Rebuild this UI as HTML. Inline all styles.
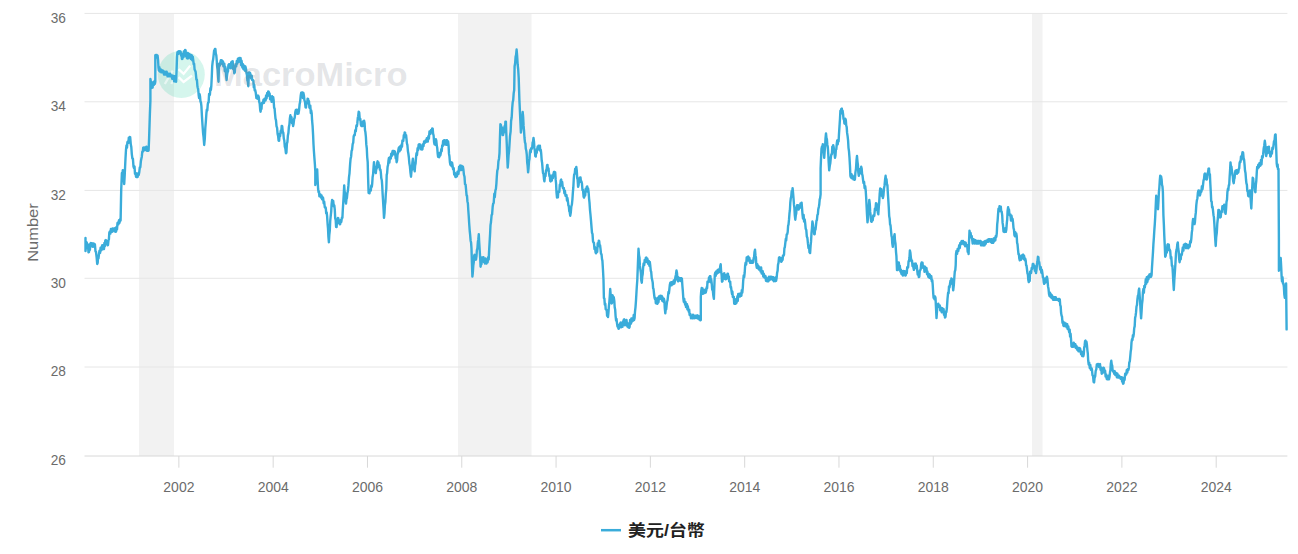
<!DOCTYPE html>
<html><head><meta charset="utf-8"><title>美元/台幣</title>
<style>
html,body{margin:0;padding:0;background:#fff;}
body{width:1298px;height:554px;overflow:hidden;}
svg{display:block;}
.ax{font-family:"Liberation Sans","Noto Sans CJK TC",sans-serif;font-size:15px;fill:#6b6b6b;}
.ttl{font-family:"Liberation Sans","Noto Sans CJK TC",sans-serif;font-size:14.5px;fill:#6b6b6b;}
.wmt{font-family:"Liberation Sans",sans-serif;font-size:33px;font-weight:bold;fill:rgba(118,122,135,0.2);}
.lg{font-family:"Liberation Sans","Noto Sans CJK TC",sans-serif;font-size:16px;font-weight:bold;fill:#222222;}
</style></head><body>
<svg width="1298" height="554" viewBox="0 0 1298 554">
<rect x="0" y="0" width="1298" height="554" fill="#ffffff"/>
<rect x="139" y="13.5" width="35" height="442.5" fill="#f2f2f2"/>
<rect x="458" y="13.5" width="73.5" height="442.5" fill="#f2f2f2"/>
<rect x="1032" y="13.5" width="10.5" height="442.5" fill="#f2f2f2"/>
<path d="M84.5 13.4 H1287.4" stroke="#e6e6e6" stroke-width="1"/>
<path d="M84.5 101.8 H1287.4" stroke="#e6e6e6" stroke-width="1"/>
<path d="M84.5 190.4 H1287.4" stroke="#e6e6e6" stroke-width="1"/>
<path d="M84.5 278.3 H1287.4" stroke="#e6e6e6" stroke-width="1"/>
<path d="M84.5 367.0 H1287.4" stroke="#e6e6e6" stroke-width="1"/>
<path d="M84.5 456.0 H1287.4" stroke="#d8d8d8" stroke-width="1"/>
<path d="M178.86 456.0 V467.7" stroke="#d8d8d8" stroke-width="1"/>
<path d="M273.16 456.0 V467.7" stroke="#d8d8d8" stroke-width="1"/>
<path d="M367.47 456.0 V467.7" stroke="#d8d8d8" stroke-width="1"/>
<path d="M461.77 456.0 V467.7" stroke="#d8d8d8" stroke-width="1"/>
<path d="M556.07 456.0 V467.7" stroke="#d8d8d8" stroke-width="1"/>
<path d="M650.37 456.0 V467.7" stroke="#d8d8d8" stroke-width="1"/>
<path d="M744.68 456.0 V467.7" stroke="#d8d8d8" stroke-width="1"/>
<path d="M838.98 456.0 V467.7" stroke="#d8d8d8" stroke-width="1"/>
<path d="M933.28 456.0 V467.7" stroke="#d8d8d8" stroke-width="1"/>
<path d="M1027.59 456.0 V467.7" stroke="#d8d8d8" stroke-width="1"/>
<path d="M1121.89 456.0 V467.7" stroke="#d8d8d8" stroke-width="1"/>
<path d="M1216.19 456.0 V467.7" stroke="#d8d8d8" stroke-width="1"/>
<text x="65.9" y="22.6" text-anchor="end" class="ax" textLength="15.2" lengthAdjust="spacingAndGlyphs">36</text>
<text x="65.9" y="111.0" text-anchor="end" class="ax" textLength="15.2" lengthAdjust="spacingAndGlyphs">34</text>
<text x="65.9" y="199.6" text-anchor="end" class="ax" textLength="15.2" lengthAdjust="spacingAndGlyphs">32</text>
<text x="65.9" y="287.5" text-anchor="end" class="ax" textLength="15.2" lengthAdjust="spacingAndGlyphs">30</text>
<text x="65.9" y="376.2" text-anchor="end" class="ax" textLength="15.2" lengthAdjust="spacingAndGlyphs">28</text>
<text x="65.9" y="465.2" text-anchor="end" class="ax" textLength="15.2" lengthAdjust="spacingAndGlyphs">26</text>
<text x="178.9" y="492.4" text-anchor="middle" class="ax" textLength="31.1" lengthAdjust="spacingAndGlyphs">2002</text>
<text x="273.2" y="492.4" text-anchor="middle" class="ax" textLength="31.1" lengthAdjust="spacingAndGlyphs">2004</text>
<text x="367.5" y="492.4" text-anchor="middle" class="ax" textLength="31.1" lengthAdjust="spacingAndGlyphs">2006</text>
<text x="461.8" y="492.4" text-anchor="middle" class="ax" textLength="31.1" lengthAdjust="spacingAndGlyphs">2008</text>
<text x="556.1" y="492.4" text-anchor="middle" class="ax" textLength="31.1" lengthAdjust="spacingAndGlyphs">2010</text>
<text x="650.4" y="492.4" text-anchor="middle" class="ax" textLength="31.1" lengthAdjust="spacingAndGlyphs">2012</text>
<text x="744.7" y="492.4" text-anchor="middle" class="ax" textLength="31.1" lengthAdjust="spacingAndGlyphs">2014</text>
<text x="839.0" y="492.4" text-anchor="middle" class="ax" textLength="31.1" lengthAdjust="spacingAndGlyphs">2016</text>
<text x="933.3" y="492.4" text-anchor="middle" class="ax" textLength="31.1" lengthAdjust="spacingAndGlyphs">2018</text>
<text x="1027.6" y="492.4" text-anchor="middle" class="ax" textLength="31.1" lengthAdjust="spacingAndGlyphs">2020</text>
<text x="1121.9" y="492.4" text-anchor="middle" class="ax" textLength="31.1" lengthAdjust="spacingAndGlyphs">2022</text>
<text x="1216.2" y="492.4" text-anchor="middle" class="ax" textLength="31.1" lengthAdjust="spacingAndGlyphs">2024</text>
<text transform="translate(37.8,232.6) rotate(-90)" text-anchor="middle" class="ttl" textLength="58.4" lengthAdjust="spacingAndGlyphs">Number</text>
<ellipse cx="181.3" cy="74.4" rx="23.5" ry="23.6" fill="rgba(45,210,165,0.2)"/>
<g stroke="#ffffff" stroke-width="2.3" fill="none" stroke-linecap="butt" stroke-linejoin="miter"><path d="M164.8 84 L172.8 70.5" stroke-opacity="0.55"/><path d="M171.2 84 L175.6 77.2" stroke-opacity="0.55"/><path d="M178.6 69.2 L183.6 73.9 L190.2 65.6"/><path d="M178.6 77.2 L183.6 82 L192 75.6"/></g>
<path d="M85.5,238.0 L85.5,251.0 L85.9,247.4 L86.3,242.0 L86.8,242.7 L87.4,247.7 L87.9,244.5 L88.5,252.4 L89.0,252.0 L89.5,246.7 L89.9,249.8 L90.3,243.7 L90.8,243.0 L91.4,246.4 L91.9,243.3 L92.5,246.0 L93.0,246.8 L93.5,243.4 L93.9,245.9 L94.4,244.0 L94.9,244.4 L95.5,251.3 L96.0,252.0 L96.6,257.0 L97.2,264.0 L97.7,262.8 L98.1,255.8 L98.5,258.3 L99.0,254.0 L99.5,250.6 L100.1,252.8 L100.6,247.7 L101.2,250.4 L101.7,247.0 L102.2,245.2 L102.6,249.4 L103.0,247.1 L103.5,249.0 L104.0,249.1 L104.4,242.9 L104.8,246.3 L105.3,240.5 L105.8,240.1 L106.4,243.9 L106.9,241.2 L107.5,245.4 L108.0,245.0 L108.5,240.2 L108.9,239.5 L109.3,232.7 L109.8,231.5 L110.4,233.5 L110.9,228.9 L111.5,230.0 L112.0,231.8 L112.5,228.4 L112.9,230.5 L113.4,228.8 L113.9,228.4 L114.5,231.4 L115.0,228.1 L115.6,231.9 L116.1,231.5 L116.5,226.9 L117.0,229.3 L117.5,222.9 L117.9,222.4 L118.4,224.4 L119.0,220.2 L119.5,222.9 L120.1,219.1 L120.6,220.6 L121.2,190.0 L121.9,173.0 L122.4,174.9 L122.8,170.2 L123.3,174.0 L123.8,180.2 L124.2,184.0 L124.7,175.4 L125.1,166.8 L125.5,158.2 L126.0,149.6 L126.5,145.5 L127.0,147.6 L127.4,142.2 L127.9,141.5 L128.4,142.9 L128.8,137.6 L129.3,140.7 L129.7,136.9 L130.2,137.3 L130.8,144.5 L131.3,147.1 L131.8,154.1 L132.4,158.6 L132.9,158.6 L133.5,166.6 L134.0,168.0 L134.5,166.3 L135.0,173.8 L135.5,172.8 L136.0,176.7 L136.5,177.1 L137.1,173.5 L137.6,177.1 L138.2,173.9 L138.7,174.9 L139.2,172.6 L139.8,167.5 L140.3,167.5 L140.9,161.0 L141.4,158.6 L141.8,156.7 L142.3,151.7 L142.8,151.8 L143.2,147.8 L143.7,147.4 L144.3,150.4 L144.8,147.4 L145.4,150.0 L145.9,148.7 L146.4,146.6 L147.0,150.9 L147.5,147.6 L148.1,150.9 L148.6,150.5 L149.1,138.2 L149.5,126.0 L149.9,113.4 L150.4,100.8 L150.4,79.0 L150.8,81.2 L151.3,87.0 L151.7,88.0 L152.1,84.8 L152.6,87.6 L153.1,82.1 L153.5,83.5 L153.9,84.8 L154.4,81.1 L154.9,83.7 L155.3,81.7 L155.3,55.3 L155.8,54.9 L156.2,57.3 L156.7,54.9 L157.1,57.7 L157.6,55.7 L158.1,60.5 L158.5,67.9 L158.9,70.5 L159.4,67.3 L159.9,71.5 L160.3,71.1 L160.8,69.5 L161.4,72.4 L161.9,70.1 L162.4,72.4 L163.0,70.7 L163.5,72.0 L164.0,74.6 L164.5,71.6 L165.0,74.6 L165.6,72.0 L166.1,74.6 L166.6,71.6 L167.1,74.2 L167.6,76.4 L168.1,73.8 L168.6,76.4 L169.2,73.8 L169.7,76.4 L170.2,73.8 L170.7,76.0 L171.2,76.4 L171.7,75.6 L172.2,78.9 L172.7,75.6 L173.1,78.5 L173.6,76.0 L174.1,81.5 L174.6,76.2 L175.1,80.2 L175.6,78.5 L176.1,81.7 L176.6,69.4 L177.0,57.1 L177.4,52.5 L177.9,51.7 L178.4,53.9 L179.0,51.3 L179.5,53.3 L180.1,51.3 L180.6,51.7 L181.1,55.7 L181.5,53.5 L181.9,59.0 L182.4,58.9 L182.9,55.0 L183.5,57.2 L184.0,51.1 L184.6,54.0 L185.1,49.9 L185.6,50.4 L186.0,56.4 L186.4,54.6 L186.9,58.0 L187.3,58.4 L187.8,53.0 L188.2,58.4 L188.7,54.4 L189.2,54.0 L189.8,57.6 L190.3,54.6 L190.9,59.0 L191.4,57.1 L191.8,55.3 L192.3,60.3 L192.8,56.8 L193.2,59.8 L193.7,64.3 L194.1,63.5 L194.6,69.5 L195.1,70.6 L195.6,71.7 L196.0,75.4 L196.4,79.6 L196.9,79.7 L197.4,86.0 L197.8,88.0 L198.2,89.3 L198.7,95.3 L199.1,98.1 L199.6,94.3 L200.0,96.2 L200.5,101.8 L200.9,102.0 L201.4,106.1 L201.9,115.5 L202.5,125.0 L203.1,133.1 L203.6,137.4 L204.2,145.0 L204.8,138.6 L205.3,128.0 L205.8,122.2 L206.4,113.5 L206.8,109.7 L207.3,110.4 L207.8,104.0 L208.2,102.6 L208.6,102.5 L209.1,93.9 L209.5,95.3 L209.9,94.7 L210.4,88.3 L210.9,89.9 L211.3,86.2 L211.8,76.2 L212.2,66.1 L212.7,61.6 L213.1,59.8 L213.6,55.3 L214.1,50.5 L214.5,53.8 L214.9,49.0 L215.4,49.0 L215.8,53.5 L216.3,55.4 L216.7,59.8 L217.1,66.0 L217.6,69.6 L218.1,77.3 L218.5,81.7 L219.0,66.0 L219.4,63.5 L219.9,65.5 L220.3,62.5 L220.8,60.3 L221.2,63.5 L221.7,60.3 L222.1,60.7 L222.6,64.3 L223.0,61.4 L223.4,66.4 L223.9,66.1 L224.3,63.6 L224.8,71.2 L225.2,66.7 L225.7,68.8 L226.1,75.8 L226.6,80.0 L227.1,74.9 L227.5,72.4 L228.0,71.3 L228.4,65.2 L228.9,64.3 L229.4,67.3 L229.8,64.2 L230.3,67.9 L230.8,68.3 L231.2,62.3 L231.7,64.9 L232.1,61.6 L232.7,61.2 L233.2,69.3 L233.8,68.5 L234.3,73.3 L234.8,72.3 L235.2,66.3 L235.7,64.3 L236.2,66.4 L236.8,61.0 L237.3,63.5 L237.9,58.6 L238.4,59.8 L238.8,61.8 L239.3,58.0 L239.8,60.2 L240.2,58.4 L240.6,58.0 L241.1,65.2 L241.6,60.8 L242.0,64.3 L242.4,67.5 L242.9,64.2 L243.4,69.2 L243.8,67.9 L244.4,65.8 L244.9,70.7 L245.4,66.5 L246.0,68.8 L246.5,73.1 L246.9,74.7 L247.4,80.6 L247.8,81.5 L248.3,86.2 L249.0,72.4 L249.5,75.4 L250.1,72.9 L250.6,75.1 L251.2,78.5 L251.7,75.6 L252.2,80.1 L252.8,80.0 L253.3,80.4 L253.8,87.3 L254.2,84.5 L254.7,90.5 L255.2,90.0 L255.8,93.0 L256.4,98.0 L256.9,98.4 L257.4,95.7 L257.8,98.9 L258.3,95.8 L258.8,97.2 L259.2,101.8 L259.7,103.7 L260.2,110.0 L260.6,111.7 L261.1,107.3 L261.5,108.8 L261.9,103.0 L262.4,102.6 L262.9,103.3 L263.5,99.7 L264.0,102.9 L264.6,98.6 L265.1,99.0 L265.6,100.4 L266.1,95.4 L266.6,98.3 L267.2,92.9 L267.7,95.8 L268.2,91.4 L268.7,91.8 L269.1,95.5 L269.6,93.3 L270.1,99.4 L270.5,99.0 L271.0,97.4 L271.6,101.8 L272.1,96.3 L272.7,99.2 L273.2,97.2 L273.6,99.9 L274.1,107.6 L274.6,108.6 L275.0,113.5 L275.5,118.7 L276.0,120.3 L276.5,126.2 L277.1,127.8 L277.6,133.9 L278.1,135.9 L278.6,140.6 L279.1,140.8 L279.6,134.0 L280.1,136.0 L280.7,130.8 L281.2,132.7 L281.7,125.9 L282.2,126.1 L282.7,131.4 L283.3,132.7 L283.8,138.5 L284.3,140.5 L284.8,146.7 L285.4,148.5 L285.9,153.2 L286.4,152.8 L286.9,143.8 L287.4,141.9 L287.9,135.4 L288.4,133.1 L288.9,126.9 L289.4,124.6 L289.9,118.1 L290.4,115.3 L290.9,119.0 L291.5,117.1 L292.0,123.2 L292.6,122.6 L293.1,126.1 L293.6,123.7 L294.2,118.7 L294.7,117.8 L295.3,112.1 L295.8,109.9 L296.3,112.5 L296.9,109.7 L297.4,113.9 L298.0,111.4 L298.5,113.5 L299.0,110.6 L299.6,104.3 L300.1,102.0 L300.7,95.8 L301.2,92.7 L301.7,95.6 L302.3,92.5 L302.8,98.0 L303.4,93.0 L303.9,95.4 L304.4,100.1 L305.0,101.8 L305.5,107.2 L306.0,107.6 L306.5,102.4 L307.1,103.7 L307.6,98.6 L308.1,99.0 L308.6,103.4 L309.0,101.3 L309.4,107.7 L309.9,108.0 L310.3,105.6 L310.8,113.1 L311.2,110.5 L311.7,113.5 L312.1,120.7 L312.6,126.1 L313.1,135.1 L313.5,144.2 L313.9,151.0 L314.4,157.8 L314.9,164.5 L315.3,171.3 L315.3,185.0 L315.8,179.9 L316.2,178.1 L316.7,172.2 L317.2,169.5 L317.6,179.2 L318.1,189.0 L318.6,192.4 L319.0,191.4 L319.4,196.3 L319.9,196.3 L320.4,194.4 L321.0,197.6 L321.5,195.3 L322.1,199.2 L322.6,197.2 L323.1,197.9 L323.7,203.3 L324.2,201.6 L324.8,207.5 L325.3,207.1 L325.8,208.1 L326.2,213.4 L326.7,212.4 L327.1,216.1 L327.6,224.0 L328.0,228.3 L328.4,236.7 L328.9,242.3 L329.3,234.8 L329.8,230.5 L330.2,221.2 L330.7,216.1 L331.2,211.6 L331.6,204.2 L332.1,199.9 L332.7,203.7 L333.2,200.9 L333.8,206.4 L334.3,205.3 L334.8,209.9 L335.2,218.1 L335.7,220.1 L336.1,226.9 L336.6,227.1 L337.0,220.7 L337.4,222.6 L337.9,217.9 L338.3,218.2 L338.8,222.8 L339.2,221.0 L339.7,224.2 L340.2,224.2 L340.8,220.0 L341.3,221.8 L341.9,217.7 L342.4,217.9 L342.8,209.8 L343.3,201.7 L343.8,193.5 L344.2,185.4 L344.6,191.3 L345.1,193.4 L345.6,201.1 L346.0,203.5 L346.5,198.9 L346.9,198.2 L347.4,193.2 L347.9,190.8 L348.4,185.7 L349.0,177.1 L349.5,173.3 L350.1,164.1 L350.6,158.6 L351.1,156.7 L351.6,150.9 L352.1,149.7 L352.7,143.9 L353.2,142.8 L353.7,136.2 L354.2,135.1 L354.7,135.3 L355.3,130.2 L355.8,131.5 L356.4,125.5 L356.9,126.1 L357.3,123.4 L357.8,117.8 L358.2,116.2 L358.7,111.7 L359.2,112.4 L359.8,119.7 L360.3,118.7 L360.9,124.9 L361.4,126.1 L361.9,123.7 L362.5,126.1 L363.0,121.5 L363.6,125.3 L364.1,120.7 L364.6,123.3 L365.0,130.3 L365.4,132.1 L365.9,137.0 L366.3,144.4 L366.8,148.5 L367.2,157.0 L367.7,162.2 L368.1,177.6 L368.6,193.0 L369.1,190.4 L369.5,193.4 L369.9,189.9 L370.4,190.8 L370.8,190.6 L371.3,185.5 L371.8,186.9 L372.2,183.6 L372.6,177.3 L373.1,174.3 L373.6,166.6 L374.0,162.2 L374.4,166.4 L374.9,166.7 L375.4,171.6 L375.8,173.1 L376.2,169.3 L376.7,168.6 L377.2,162.8 L377.6,161.3 L378.1,166.0 L378.5,162.5 L379.0,167.4 L379.5,165.1 L379.9,169.9 L380.4,169.5 L380.8,172.1 L381.3,178.3 L381.8,180.2 L382.2,185.4 L382.6,193.5 L383.1,201.7 L383.6,209.8 L384.0,217.9 L384.5,213.1 L384.9,205.4 L385.4,201.8 L385.8,193.9 L386.3,189.0 L386.7,174.9 L387.1,173.3 L387.6,166.8 L388.1,164.9 L388.5,160.4 L388.9,158.0 L389.4,162.6 L389.9,157.1 L390.3,158.6 L390.8,158.6 L391.2,153.8 L391.7,156.2 L392.1,153.2 L392.6,151.0 L393.2,154.4 L393.7,151.0 L394.3,154.3 L394.8,151.4 L395.2,152.6 L395.7,158.3 L396.2,155.6 L396.6,162.2 L397.1,160.4 L397.5,154.5 L397.9,153.6 L398.4,149.6 L398.9,147.4 L399.5,151.3 L400.0,146.5 L400.6,150.0 L401.1,147.8 L401.6,144.4 L402.0,146.6 L402.4,140.5 L402.9,140.6 L403.3,141.0 L403.8,135.1 L404.2,136.9 L404.7,132.4 L405.1,132.7 L405.6,137.3 L406.1,135.2 L406.5,138.8 L406.9,143.3 L407.4,145.1 L407.9,151.0 L408.3,153.2 L408.8,157.0 L409.4,163.6 L409.9,166.3 L410.5,172.9 L411.0,176.7 L411.5,170.8 L411.9,169.8 L412.4,162.3 L412.9,158.6 L413.3,162.6 L413.8,163.8 L414.2,169.1 L414.7,171.3 L415.1,165.6 L415.6,163.5 L416.1,156.6 L416.5,153.2 L417.0,155.0 L417.6,148.1 L418.1,150.0 L418.7,144.5 L419.2,144.2 L419.7,146.7 L420.3,144.6 L420.8,149.2 L421.4,147.2 L421.9,149.6 L422.4,149.3 L423.0,144.1 L423.5,146.1 L424.1,141.4 L424.6,141.5 L425.1,142.7 L425.7,140.2 L426.2,141.9 L426.8,138.3 L427.3,140.6 L427.8,141.6 L428.4,136.2 L428.9,138.6 L429.5,131.4 L430.0,133.3 L430.5,133.8 L431.1,129.9 L431.6,132.0 L432.2,128.4 L432.7,128.8 L433.1,133.6 L433.6,135.5 L434.1,142.3 L434.5,144.2 L434.9,140.9 L435.4,144.8 L435.9,139.3 L436.3,140.6 L436.8,145.8 L437.2,147.7 L437.7,153.9 L438.1,156.8 L438.6,153.7 L439.2,157.2 L439.7,152.9 L440.3,155.5 L440.8,153.2 L441.3,149.1 L441.7,151.2 L442.2,145.4 L442.7,146.1 L443.1,141.1 L443.6,140.6 L444.1,144.0 L444.5,140.3 L444.9,144.6 L445.4,144.2 L445.9,140.5 L446.5,144.9 L447.0,140.2 L447.6,143.6 L448.1,141.5 L448.6,145.9 L449.0,153.9 L449.4,156.0 L449.9,162.2 L450.4,164.9 L451.0,162.1 L451.5,166.2 L452.1,162.7 L452.6,165.8 L453.1,169.4 L453.7,168.1 L454.2,174.6 L454.8,172.9 L455.3,176.7 L455.8,177.1 L456.4,173.6 L456.9,176.3 L457.5,171.7 L458.0,173.1 L458.5,174.0 L459.1,166.6 L459.6,170.3 L460.2,165.4 L460.7,165.8 L461.2,170.1 L461.8,165.9 L462.3,169.9 L462.9,166.7 L463.4,169.5 L463.9,174.5 L464.5,176.7 L465.0,184.1 L465.6,184.6 L466.1,190.0 L466.6,195.7 L467.0,195.7 L467.4,201.2 L467.9,203.5 L468.3,210.3 L468.8,217.1 L469.2,223.8 L469.7,230.6 L470.1,234.3 L470.6,240.4 L471.1,242.8 L471.5,248.6 L471.9,262.6 L472.4,276.6 L472.8,272.8 L473.3,265.3 L473.8,262.1 L474.2,255.8 L474.6,254.8 L475.1,259.7 L475.6,257.1 L476.0,259.5 L476.5,256.0 L476.9,250.1 L477.4,248.3 L477.9,241.6 L478.3,239.4 L478.8,234.2 L479.2,242.3 L479.7,250.4 L480.2,258.6 L480.6,266.7 L481.1,262.0 L481.5,264.3 L481.9,257.4 L482.4,257.6 L482.9,260.7 L483.4,257.2 L483.9,262.1 L484.5,259.1 L485.0,263.5 L485.5,258.4 L486.0,263.1 L486.5,263.5 L487.1,259.2 L487.6,262.4 L488.2,257.2 L488.7,259.5 L489.1,250.9 L489.6,242.3 L490.1,233.7 L490.5,225.1 L491.0,222.0 L491.6,215.2 L492.1,214.3 L492.7,206.5 L493.2,203.5 L493.7,203.0 L494.3,193.8 L494.8,197.2 L495.4,190.4 L495.9,189.0 L496.4,183.6 L496.8,176.7 L497.3,170.6 L497.9,168.7 L498.4,161.6 L499.0,158.7 L499.5,153.2 L499.9,138.8 L500.4,124.3 L500.9,125.0 L501.5,130.4 L502.0,127.5 L502.6,135.1 L503.1,135.1 L503.6,131.2 L504.0,132.5 L504.5,126.3 L505.0,129.5 L505.4,121.6 L505.9,121.6 L506.3,133.1 L506.8,144.6 L507.2,156.1 L507.7,167.6 L508.1,163.0 L508.6,155.0 L509.1,150.9 L509.5,144.2 L510.0,136.1 L510.6,131.6 L511.1,121.0 L511.7,117.3 L512.2,108.0 L512.7,102.2 L513.2,100.1 L513.7,93.1 L514.2,90.0 L514.6,66.2 L515.1,63.5 L515.6,56.9 L516.1,54.8 L516.6,49.5 L517.1,55.4 L517.7,65.0 L518.2,69.5 L518.7,77.9 L519.4,100.0 L519.9,110.9 L520.4,121.7 L520.9,132.6 L521.4,128.5 L521.8,121.3 L522.2,118.0 L522.7,112.0 L523.2,117.7 L523.6,125.9 L524.0,130.4 L524.5,138.0 L525.0,142.6 L525.4,143.3 L525.8,148.8 L526.3,150.7 L526.8,154.9 L527.2,162.5 L527.6,165.6 L528.1,172.4 L528.5,168.7 L529.0,161.4 L529.5,158.7 L529.9,152.5 L530.4,149.8 L530.8,152.2 L531.2,148.2 L531.7,148.9 L532.2,147.6 L532.6,142.6 L533.0,141.7 L533.5,138.0 L534.0,141.7 L534.4,147.9 L534.8,150.3 L535.3,156.1 L535.8,156.5 L536.2,150.8 L536.7,152.9 L537.2,148.9 L537.7,146.4 L538.1,149.6 L538.5,145.8 L539.0,146.2 L539.5,148.4 L539.9,145.8 L540.3,150.8 L540.8,149.8 L541.2,153.5 L541.7,160.5 L542.1,162.7 L542.6,168.8 L543.0,173.0 L543.5,173.8 L544.0,179.2 L544.4,181.4 L544.9,176.7 L545.5,176.2 L546.0,170.4 L546.6,169.5 L547.1,165.1 L547.5,164.9 L548.0,170.5 L548.5,168.4 L548.9,172.4 L549.4,176.2 L549.8,175.1 L550.2,180.9 L550.7,181.4 L551.2,177.5 L551.8,180.6 L552.3,175.3 L552.9,178.1 L553.4,174.2 L553.9,172.0 L554.3,175.5 L554.8,172.0 L555.2,172.4 L555.7,179.9 L556.1,183.7 L556.5,192.5 L557.0,197.6 L557.5,194.3 L557.9,197.3 L558.3,191.4 L558.8,192.2 L559.3,191.9 L559.8,184.7 L560.2,186.0 L560.7,180.4 L561.2,179.6 L561.7,185.3 L562.2,182.0 L562.8,187.9 L563.3,188.6 L563.8,187.9 L564.4,193.4 L564.9,190.7 L565.5,195.9 L566.0,195.8 L566.5,195.0 L567.0,200.6 L567.4,198.0 L567.9,201.3 L568.4,205.7 L568.8,205.8 L569.3,211.3 L569.7,211.8 L570.2,215.7 L570.8,212.5 L571.3,206.6 L571.9,204.5 L572.4,199.5 L572.9,192.2 L573.3,187.7 L573.8,178.3 L574.2,174.2 L574.7,173.9 L575.2,168.7 L575.8,170.8 L576.3,166.9 L576.8,170.9 L577.2,178.2 L577.6,179.5 L578.1,186.8 L578.6,185.1 L579.1,179.4 L579.6,177.8 L580.0,180.0 L580.5,177.4 L581.0,182.1 L581.4,181.4 L581.9,183.2 L582.5,190.1 L583.0,189.7 L583.6,196.6 L584.1,197.6 L584.6,193.1 L585.2,195.5 L585.7,188.8 L586.3,191.3 L586.8,186.8 L587.2,186.4 L587.7,191.7 L588.1,188.5 L588.6,192.2 L589.1,198.8 L589.5,202.7 L590.0,210.1 L590.5,215.0 L591.0,220.7 L591.6,228.1 L592.0,232.8 L592.5,233.9 L593.0,241.2 L593.4,242.5 L593.9,242.7 L594.5,249.1 L595.0,247.2 L595.6,252.5 L596.1,253.3 L596.6,248.7 L597.2,251.9 L597.7,243.3 L598.3,245.7 L598.8,240.7 L599.2,241.1 L599.7,246.5 L600.1,245.4 L600.6,249.7 L601.0,253.8 L601.5,254.0 L602.0,259.2 L602.4,260.6 L603.0,270.3 L603.5,280.0 L603.9,298.0 L604.4,298.6 L604.8,304.7 L605.3,303.5 L605.7,309.2 L606.2,309.8 L606.7,310.0 L607.1,315.9 L607.5,313.0 L608.0,317.0 L608.4,313.2 L608.9,306.2 L609.3,302.6 L609.8,295.8 L610.2,289.0 L610.7,295.2 L611.1,296.4 L611.6,303.5 L612.0,303.0 L612.5,295.3 L612.9,296.2 L613.4,300.9 L613.8,297.3 L614.3,300.8 L614.7,307.2 L615.2,309.8 L615.6,316.1 L616.1,320.5 L616.5,318.9 L617.0,323.3 L617.5,326.6 L617.9,325.1 L618.4,328.7 L618.9,328.7 L619.3,324.7 L619.8,327.0 L620.2,323.3 L620.7,322.5 L621.1,327.3 L621.5,324.4 L622.0,326.9 L622.5,326.9 L622.9,321.5 L623.3,323.9 L623.8,319.7 L624.2,319.3 L624.7,325.2 L625.1,323.3 L625.5,321.3 L626.0,325.1 L626.5,319.9 L626.9,323.3 L627.4,326.6 L627.8,323.3 L628.3,327.4 L628.7,325.4 L629.2,327.8 L629.6,327.0 L630.1,319.9 L630.5,321.5 L631.0,323.6 L631.4,318.4 L631.9,321.7 L632.3,318.5 L632.8,319.7 L633.2,320.7 L633.7,315.0 L634.1,320.1 L634.6,317.9 L635.0,311.7 L635.5,307.1 L636.0,300.3 L636.4,293.5 L636.8,286.8 L637.3,280.0 L637.9,264.4 L638.5,248.8 L639.0,255.3 L639.5,257.8 L639.9,265.9 L640.4,269.6 L640.9,273.2 L641.3,280.5 L641.8,282.7 L642.2,276.9 L642.7,274.1 L643.1,267.8 L643.6,263.5 L644.2,265.2 L644.7,259.9 L645.3,262.0 L645.8,257.9 L646.3,257.5 L646.9,261.8 L647.4,258.8 L648.0,263.7 L648.5,262.4 L649.0,261.1 L649.4,265.8 L649.8,262.0 L650.3,266.0 L650.8,270.9 L651.2,271.8 L651.7,277.9 L652.2,280.0 L652.7,282.4 L653.1,288.2 L653.5,288.9 L654.0,293.5 L654.5,297.7 L654.9,299.0 L655.4,297.8 L655.8,303.2 L656.2,298.4 L656.7,300.8 L657.2,303.9 L657.6,303.5 L658.0,297.8 L658.5,302.2 L659.0,296.4 L659.4,296.2 L659.9,298.9 L660.3,295.8 L660.8,298.9 L661.2,298.0 L661.7,296.0 L662.1,300.7 L662.5,297.2 L663.0,299.0 L663.5,301.7 L663.9,298.7 L664.4,300.8 L664.8,308.4 L665.3,313.4 L665.7,309.6 L666.2,309.4 L666.6,305.3 L667.1,301.3 L667.5,300.7 L668.0,296.2 L668.5,291.9 L668.9,293.4 L669.4,289.0 L669.8,285.0 L670.3,282.7 L670.8,285.1 L671.2,282.3 L671.6,285.3 L672.1,283.6 L672.6,281.9 L673.2,284.0 L673.7,280.5 L674.3,283.6 L674.8,281.8 L675.4,277.0 L675.9,275.0 L676.5,270.5 L677.0,272.9 L677.5,280.0 L678.1,281.4 L678.6,277.5 L679.2,278.6 L679.7,280.4 L680.3,278.2 L680.8,281.1 L681.4,278.2 L681.9,278.6 L682.4,286.0 L682.8,290.7 L683.3,298.0 L683.8,301.9 L684.2,298.6 L684.7,302.6 L685.2,304.6 L685.6,302.2 L686.0,307.1 L686.5,305.3 L687.0,304.2 L687.4,309.5 L687.8,306.3 L688.3,308.9 L688.8,311.9 L689.2,309.6 L689.6,314.9 L690.1,315.2 L690.5,314.2 L691.0,318.3 L691.5,315.9 L691.9,317.9 L692.5,318.3 L693.0,314.8 L693.6,316.9 L694.1,318.3 L694.7,315.6 L695.2,318.0 L695.8,315.6 L696.3,316.0 L696.8,318.0 L697.4,315.3 L697.9,318.5 L698.5,316.0 L699.0,317.8 L699.5,319.6 L699.9,317.4 L700.3,320.4 L700.8,320.0 L700.8,297.1 L701.2,291.1 L701.7,288.0 L702.2,291.5 L702.6,288.5 L703.0,293.9 L703.5,292.6 L704.0,290.2 L704.6,293.0 L705.1,289.7 L705.7,292.6 L706.2,290.8 L706.7,287.2 L707.1,288.2 L707.5,281.6 L708.0,281.7 L708.5,282.1 L709.0,277.4 L709.4,279.3 L709.9,276.3 L710.4,276.2 L710.8,282.3 L711.2,279.2 L711.7,283.5 L712.2,289.7 L712.8,290.3 L713.4,296.0 L713.9,298.9 L714.3,286.7 L714.8,274.5 L715.3,272.5 L715.7,275.9 L716.2,271.4 L716.6,274.0 L717.1,271.8 L717.6,270.1 L718.2,272.7 L718.7,269.4 L719.3,272.0 L719.8,270.0 L720.2,266.3 L720.7,264.2 L721.1,271.2 L721.6,274.8 L722.0,281.7 L722.5,281.2 L722.9,276.2 L723.3,277.8 L723.8,273.6 L724.3,273.2 L724.7,278.8 L725.2,275.0 L725.6,279.4 L726.1,279.0 L726.5,275.5 L727.0,278.3 L727.5,273.6 L727.9,273.6 L728.4,277.4 L728.8,276.3 L729.2,281.3 L729.7,281.7 L730.2,281.6 L730.6,287.5 L731.0,286.7 L731.5,290.8 L732.0,294.0 L732.4,291.7 L732.8,297.0 L733.3,297.1 L733.8,296.7 L734.2,303.8 L734.6,299.9 L735.1,303.4 L735.5,303.8 L736.0,299.3 L736.5,302.8 L736.9,299.8 L737.4,296.3 L737.8,301.0 L738.2,294.0 L738.7,294.4 L739.2,296.5 L739.6,293.6 L740.0,296.6 L740.5,295.3 L741.0,293.2 L741.4,295.7 L741.8,290.2 L742.3,292.6 L742.8,287.6 L743.2,280.8 L743.7,275.4 L744.2,277.2 L744.7,272.7 L745.1,266.0 L745.6,262.8 L746.2,264.5 L746.7,257.4 L747.3,260.6 L747.8,256.9 L748.3,256.6 L748.9,260.5 L749.4,257.9 L750.0,262.8 L750.5,262.4 L751.0,260.9 L751.6,262.8 L752.1,260.6 L752.7,262.8 L753.2,262.4 L753.7,257.8 L754.1,257.1 L754.5,251.9 L755.0,249.7 L755.5,255.7 L755.9,257.3 L756.3,264.7 L756.8,267.8 L757.3,264.3 L757.9,268.2 L758.4,266.0 L759.0,269.5 L759.5,267.8 L760.0,267.4 L760.6,271.5 L761.1,267.4 L761.7,273.6 L762.2,272.3 L762.7,271.2 L763.3,276.5 L763.8,273.7 L764.4,277.5 L764.9,276.8 L765.4,276.0 L766.0,280.8 L766.5,277.6 L767.1,281.2 L767.6,280.8 L768.0,278.5 L768.5,281.2 L769.0,276.8 L769.4,278.1 L769.9,279.8 L770.5,276.8 L771.0,279.0 L771.6,276.8 L772.1,277.2 L772.6,279.7 L773.2,277.1 L773.7,281.2 L774.3,278.1 L774.8,280.8 L775.2,281.2 L775.7,277.3 L776.1,280.7 L776.6,278.1 L777.1,272.9 L777.6,270.8 L778.0,264.7 L778.5,262.9 L779.0,257.6 L779.5,257.2 L780.1,260.6 L780.6,258.0 L781.2,261.7 L781.7,261.3 L782.2,257.7 L782.6,259.9 L783.0,255.4 L783.5,255.8 L784.0,254.7 L784.4,248.2 L784.8,247.3 L785.3,243.2 L785.8,238.8 L786.2,240.4 L786.7,234.4 L787.2,234.2 L787.7,232.0 L788.1,225.8 L788.5,224.6 L789.0,219.7 L789.5,213.2 L789.9,210.2 L790.3,202.7 L790.8,198.1 L791.2,196.9 L791.7,191.1 L792.1,193.1 L792.6,188.1 L793.0,192.0 L793.5,198.1 L794.0,204.9 L794.4,207.9 L794.8,215.4 L795.3,219.7 L795.8,215.1 L796.2,213.7 L796.6,207.9 L797.1,205.3 L797.5,208.5 L798.0,205.3 L798.5,209.6 L798.9,208.9 L799.4,205.7 L800.0,207.7 L800.5,203.5 L801.1,206.2 L801.6,202.6 L802.0,207.5 L802.5,214.3 L803.0,218.5 L803.6,214.9 L804.1,221.6 L804.7,219.3 L805.2,223.3 L805.7,228.8 L806.3,230.1 L806.8,236.3 L807.4,238.0 L807.9,243.2 L808.5,248.1 L809.0,246.2 L809.5,252.3 L810.1,253.1 L810.6,245.6 L811.0,241.9 L811.5,233.0 L811.9,229.0 L812.4,221.5 L812.9,223.7 L813.3,229.2 L813.8,230.0 L814.2,234.2 L814.7,234.2 L815.1,228.3 L815.5,229.5 L816.0,225.1 L816.5,220.6 L816.9,220.2 L817.4,215.1 L817.9,214.2 L818.3,209.2 L818.8,207.1 L819.2,205.1 L819.7,199.3 L820.1,198.4 L820.6,194.4 L820.6,168.6 L821.0,158.7 L821.5,148.8 L822.0,146.5 L822.4,150.0 L822.8,144.1 L823.3,146.9 L823.8,153.5 L824.2,157.8 L824.7,150.8 L825.1,146.8 L825.5,138.3 L826.0,133.4 L826.5,138.3 L826.9,139.1 L827.3,144.4 L827.8,146.9 L828.3,154.7 L828.7,162.6 L829.2,170.4 L829.8,165.5 L830.3,163.2 L830.9,156.9 L831.4,154.2 L831.9,154.2 L832.3,146.6 L832.8,149.0 L833.2,145.1 L833.7,147.3 L834.1,152.4 L834.5,153.2 L835.0,157.8 L835.5,155.2 L835.9,149.5 L836.3,149.3 L836.8,143.3 L837.2,140.4 L837.7,144.4 L838.1,140.6 L838.6,141.5 L839.0,133.8 L839.5,126.2 L840.0,118.5 L840.4,110.8 L840.8,112.2 L841.3,109.0 L841.8,108.6 L842.2,113.3 L842.6,110.6 L843.1,114.4 L843.5,118.9 L844.0,119.4 L844.4,123.5 L844.9,123.8 L845.3,118.8 L845.8,119.9 L846.2,125.3 L846.7,127.1 L847.1,132.9 L847.6,136.1 L848.1,140.6 L848.5,147.8 L849.0,151.3 L849.5,157.8 L850.0,166.8 L850.4,175.8 L850.9,177.5 L851.5,174.2 L852.0,178.4 L852.6,175.6 L853.1,177.6 L853.5,179.4 L854.0,176.9 L854.5,179.9 L854.9,179.5 L855.4,172.7 L856.0,168.6 L856.5,160.5 L857.0,156.0 L857.5,161.8 L857.9,164.6 L858.3,172.3 L858.8,175.8 L859.3,171.6 L859.8,173.7 L860.2,169.0 L860.7,170.2 L861.2,166.8 L861.7,168.8 L862.1,174.1 L862.5,175.4 L863.0,179.5 L863.5,183.1 L864.1,181.9 L864.6,188.2 L865.2,186.1 L865.7,190.3 L866.2,198.3 L866.6,206.4 L867.0,214.4 L867.5,222.4 L868.0,217.8 L868.4,210.3 L868.8,206.9 L869.3,199.9 L869.8,204.1 L870.2,211.9 L870.6,215.0 L871.1,221.5 L871.6,221.8 L872.2,217.8 L872.7,220.4 L873.3,215.4 L873.8,216.1 L874.3,215.8 L874.9,208.7 L875.4,210.1 L876.0,203.1 L876.5,203.5 L877.0,207.2 L877.4,207.7 L877.8,212.5 L878.3,214.3 L878.8,206.8 L879.2,202.3 L879.7,193.5 L880.2,188.5 L880.7,192.6 L881.3,189.3 L881.8,195.8 L882.4,194.5 L882.9,198.1 L883.4,195.6 L884.0,188.3 L884.5,185.9 L885.1,179.3 L885.6,175.8 L886.0,180.2 L886.5,179.1 L887.0,184.8 L887.4,184.9 L887.8,192.4 L888.3,200.0 L888.8,208.1 L889.2,216.1 L889.7,218.9 L890.1,224.6 L890.5,225.0 L891.0,230.6 L891.5,236.0 L891.9,237.3 L892.3,243.6 L892.8,246.8 L893.2,242.6 L893.7,241.9 L894.1,236.5 L894.6,234.2 L895.0,240.7 L895.5,243.7 L896.0,251.8 L896.4,255.8 L897.0,270.1 L897.5,266.4 L897.9,270.0 L898.3,262.5 L898.8,262.5 L899.3,266.2 L899.8,265.8 L900.4,271.6 L900.9,269.7 L901.4,273.9 L901.9,274.3 L902.4,271.3 L902.9,275.6 L903.4,271.0 L903.9,271.4 L904.4,273.8 L904.8,271.2 L905.3,275.6 L905.8,275.2 L906.3,271.5 L906.8,273.1 L907.2,267.1 L907.7,267.6 L908.1,267.5 L908.6,261.1 L909.0,261.3 L909.5,257.2 L909.9,250.4 L910.4,252.8 L911.0,258.8 L911.5,261.3 L912.0,260.6 L912.5,266.1 L912.9,264.5 L913.4,267.6 L913.9,269.9 L914.3,263.6 L914.8,266.1 L915.3,263.8 L915.8,263.5 L916.2,268.4 L916.7,265.5 L917.2,270.1 L917.7,274.6 L918.3,272.6 L918.8,277.1 L919.3,276.7 L919.8,270.6 L920.3,270.1 L920.7,269.1 L921.2,263.8 L921.6,262.5 L922.1,265.8 L922.5,262.6 L923.0,267.9 L923.5,267.6 L924.0,266.4 L924.5,271.9 L925.0,266.7 L925.5,270.6 L926.0,268.8 L926.5,268.0 L927.0,274.2 L927.4,271.4 L927.9,275.2 L928.4,276.8 L928.9,274.0 L929.4,277.9 L929.9,274.8 L930.4,276.4 L930.9,278.7 L931.3,276.3 L931.8,281.4 L932.3,280.2 L932.7,284.6 L933.2,293.1 L933.6,297.9 L934.1,296.3 L934.5,299.3 L935.0,296.4 L935.5,297.9 L936.0,308.0 L936.5,318.1 L937.0,311.1 L937.4,304.2 L937.9,307.0 L938.3,303.6 L938.8,306.7 L939.3,305.5 L939.8,305.5 L940.2,310.3 L940.7,307.5 L941.2,310.5 L941.7,312.3 L942.2,308.1 L942.6,311.4 L943.1,309.3 L943.6,309.1 L944.0,314.9 L944.5,313.6 L945.0,317.5 L945.5,316.8 L946.0,311.4 L946.4,312.2 L946.9,308.0 L947.5,299.0 L948.1,292.8 L948.6,293.1 L949.0,286.4 L949.5,287.5 L950.0,284.0 L950.5,280.7 L951.0,283.5 L951.4,278.4 L951.9,279.0 L952.3,283.7 L952.8,285.1 L953.2,290.3 L953.8,285.3 L954.4,276.4 L954.8,271.5 L955.3,270.1 L955.7,265.1 L956.0,254.0 L956.5,250.9 L957.1,253.8 L957.6,249.0 L958.2,251.2 L958.7,248.6 L959.2,245.2 L959.8,248.0 L960.3,242.9 L960.9,244.4 L961.4,241.4 L961.9,241.0 L962.5,243.6 L963.0,241.0 L963.6,244.2 L964.1,243.2 L964.6,242.2 L965.2,246.2 L965.7,242.8 L966.3,246.0 L966.8,245.0 L967.2,245.1 L967.7,251.8 L968.1,250.3 L968.6,254.0 L969.0,242.3 L969.5,230.6 L970.0,234.4 L970.6,232.8 L971.1,237.3 L971.7,236.1 L972.2,239.6 L972.7,243.6 L973.3,239.2 L973.8,242.9 L974.3,239.6 L974.8,243.6 L975.4,240.3 L975.9,243.2 L976.4,243.6 L976.9,241.0 L977.4,243.6 L978.0,241.0 L978.5,243.6 L979.0,241.0 L979.5,241.4 L980.0,243.3 L980.5,241.0 L981.0,245.3 L981.6,241.9 L982.1,245.4 L982.6,242.5 L983.1,245.0 L983.6,245.4 L984.1,241.7 L984.6,245.4 L985.2,241.0 L985.7,243.9 L986.2,241.0 L986.7,241.4 L987.2,241.8 L987.7,239.6 L988.2,241.8 L988.8,239.2 L989.3,241.4 L989.8,239.2 L990.3,239.6 L990.8,241.9 L991.3,239.3 L991.7,242.8 L992.2,239.8 L992.7,242.4 L993.2,242.8 L993.7,238.5 L994.2,241.3 L994.8,237.6 L995.3,240.4 L995.8,236.0 L996.3,236.9 L996.8,233.2 L997.2,224.4 L997.6,220.8 L998.1,213.5 L998.5,208.6 L999.0,211.5 L999.5,206.2 L999.9,206.3 L1000.4,209.6 L1000.8,206.6 L1001.2,211.6 L1001.7,211.7 L1002.2,215.3 L1002.6,222.9 L1003.0,225.3 L1003.5,231.5 L1004.0,231.9 L1004.4,228.6 L1004.9,231.9 L1005.4,228.1 L1005.8,231.9 L1006.3,229.7 L1006.8,223.1 L1007.2,219.5 L1007.6,210.8 L1008.1,207.2 L1008.5,211.7 L1009.0,209.5 L1009.5,214.8 L1009.9,215.3 L1010.4,214.6 L1011.0,220.6 L1011.5,215.7 L1012.1,219.8 L1012.6,218.9 L1013.0,222.2 L1013.5,228.0 L1014.0,229.9 L1014.4,235.1 L1014.9,236.3 L1015.3,232.2 L1015.8,235.2 L1016.2,233.3 L1016.7,235.9 L1017.1,242.8 L1017.5,244.1 L1018.0,249.6 L1018.5,254.4 L1018.9,254.0 L1019.3,258.5 L1019.8,260.4 L1020.3,257.7 L1020.9,259.8 L1021.4,255.7 L1022.0,258.4 L1022.5,255.0 L1023.0,254.6 L1023.6,258.9 L1024.1,255.8 L1024.7,260.2 L1025.2,258.6 L1025.7,260.5 L1026.1,265.2 L1026.5,265.5 L1027.0,269.5 L1027.5,273.6 L1027.9,274.5 L1028.3,280.0 L1028.8,282.1 L1029.2,278.2 L1029.7,281.0 L1030.1,271.7 L1030.6,273.1 L1031.1,273.1 L1031.7,267.9 L1032.2,268.9 L1032.8,263.9 L1033.3,264.0 L1033.8,267.1 L1034.4,265.5 L1034.9,270.8 L1035.5,269.9 L1036.0,273.1 L1036.5,269.8 L1037.0,263.9 L1037.4,262.1 L1037.9,256.8 L1038.4,257.0 L1038.8,263.0 L1039.2,262.0 L1039.7,265.8 L1040.2,269.5 L1040.8,267.1 L1041.3,272.7 L1041.9,270.0 L1042.4,273.1 L1042.9,277.3 L1043.3,277.7 L1043.8,282.4 L1044.2,283.9 L1044.7,280.8 L1045.3,282.6 L1045.8,278.2 L1046.4,281.3 L1046.9,276.7 L1047.4,278.9 L1048.0,286.2 L1048.5,288.7 L1049.0,294.0 L1049.5,296.0 L1050.0,292.6 L1050.5,296.8 L1051.1,294.5 L1051.6,298.0 L1052.1,295.4 L1052.6,297.6 L1053.1,299.7 L1053.6,297.2 L1054.1,299.8 L1054.7,297.2 L1055.2,299.8 L1055.7,297.2 L1056.2,299.4 L1056.7,299.8 L1057.2,299.0 L1057.7,299.8 L1058.3,299.0 L1058.8,300.9 L1059.3,299.0 L1059.8,299.4 L1060.2,305.0 L1060.7,306.4 L1061.1,313.0 L1061.6,315.7 L1062.0,316.6 L1062.5,322.9 L1063.0,321.5 L1063.4,325.6 L1063.9,326.0 L1064.5,322.8 L1065.0,326.0 L1065.6,323.4 L1066.1,323.8 L1066.6,327.4 L1067.2,324.1 L1067.7,329.1 L1068.3,326.3 L1068.8,330.1 L1069.2,332.3 L1069.7,329.7 L1070.1,336.8 L1070.6,333.8 L1071.0,338.8 L1071.5,346.4 L1072.0,346.8 L1072.6,344.3 L1073.1,346.8 L1073.7,342.6 L1074.2,344.6 L1074.7,346.6 L1075.3,344.2 L1075.8,348.1 L1076.4,345.9 L1076.9,348.2 L1077.4,350.0 L1078.0,347.8 L1078.5,351.3 L1079.0,347.9 L1079.5,351.3 L1080.1,348.4 L1080.6,350.9 L1081.1,354.2 L1081.7,351.7 L1082.2,356.0 L1082.8,353.5 L1083.3,356.3 L1083.8,354.0 L1084.2,347.4 L1084.6,345.7 L1085.1,341.0 L1085.5,340.6 L1086.0,346.3 L1086.5,341.8 L1086.9,344.6 L1087.4,350.3 L1087.8,353.3 L1088.2,360.7 L1088.7,364.5 L1089.2,362.7 L1089.8,368.1 L1090.3,365.0 L1090.9,369.8 L1091.4,368.1 L1091.9,369.2 L1092.5,375.3 L1093.0,375.5 L1093.6,382.0 L1094.1,382.5 L1094.6,377.7 L1095.2,376.2 L1095.7,370.9 L1096.3,369.4 L1096.8,364.5 L1097.3,364.1 L1097.9,364.9 L1098.4,364.1 L1099.0,367.0 L1099.5,364.5 L1100.0,364.1 L1100.6,370.0 L1101.1,367.4 L1101.7,373.7 L1102.2,373.5 L1102.7,370.4 L1103.1,372.5 L1103.5,367.7 L1104.0,368.1 L1104.5,371.9 L1105.1,370.5 L1105.6,376.6 L1106.2,374.4 L1106.7,378.9 L1107.2,379.3 L1107.6,376.7 L1108.1,379.3 L1108.6,375.8 L1109.0,379.3 L1109.5,377.1 L1110.0,372.1 L1110.4,370.3 L1110.8,363.6 L1111.3,360.8 L1111.8,364.9 L1112.2,365.5 L1112.6,370.3 L1113.1,371.7 L1113.6,370.7 L1114.2,373.9 L1114.7,371.1 L1115.3,375.0 L1115.8,373.5 L1116.3,372.9 L1116.9,377.4 L1117.4,373.8 L1118.0,377.5 L1118.5,377.1 L1119.0,375.7 L1119.6,377.5 L1120.1,376.7 L1120.7,378.8 L1121.2,377.1 L1121.7,377.1 L1122.1,381.6 L1122.6,377.7 L1123.0,383.7 L1123.5,383.4 L1124.0,379.4 L1124.6,379.8 L1125.2,373.7 L1125.7,373.5 L1126.2,374.6 L1126.8,370.0 L1127.3,372.6 L1127.9,368.9 L1128.4,369.9 L1128.9,367.7 L1129.3,362.3 L1129.8,361.4 L1130.2,357.2 L1130.7,351.5 L1131.1,349.1 L1131.5,342.4 L1132.0,339.2 L1132.5,339.9 L1132.9,335.2 L1133.3,336.9 L1133.8,333.8 L1134.2,328.2 L1134.7,326.1 L1135.1,318.1 L1135.6,315.7 L1136.0,312.7 L1136.5,306.5 L1137.0,304.9 L1137.4,299.4 L1137.9,295.6 L1138.3,295.4 L1138.8,290.0 L1139.2,288.6 L1139.7,296.1 L1140.2,303.5 L1140.6,310.9 L1141.1,318.4 L1141.5,312.6 L1142.0,304.1 L1142.5,300.1 L1142.9,292.2 L1143.4,289.0 L1143.9,292.7 L1144.3,285.9 L1144.8,287.5 L1145.3,283.9 L1145.8,279.2 L1146.3,283.7 L1146.8,277.1 L1147.4,281.8 L1147.9,276.5 L1148.4,279.2 L1148.9,276.7 L1149.4,274.5 L1150.0,277.1 L1150.5,274.0 L1151.1,276.8 L1151.6,274.9 L1152.0,267.2 L1152.5,259.5 L1153.0,251.9 L1153.4,244.2 L1153.9,237.4 L1154.3,230.6 L1154.8,223.9 L1155.2,217.1 L1155.7,206.4 L1156.2,195.7 L1156.7,197.9 L1157.1,203.5 L1157.5,203.8 L1158.0,209.2 L1158.5,200.6 L1158.9,192.1 L1159.3,188.0 L1159.8,180.3 L1160.2,175.8 L1160.7,178.3 L1161.1,176.5 L1161.6,179.4 L1162.0,184.8 L1162.5,186.8 L1162.9,192.1 L1163.4,215.0 L1163.9,225.4 L1164.3,235.9 L1164.8,246.4 L1165.2,256.8 L1165.7,255.8 L1166.3,249.8 L1166.8,252.6 L1167.4,245.0 L1167.9,244.2 L1168.4,247.2 L1168.8,244.7 L1169.2,250.4 L1169.7,249.6 L1170.2,250.8 L1170.8,258.5 L1171.3,257.0 L1171.9,266.0 L1172.4,265.8 L1172.9,273.9 L1173.3,281.9 L1173.8,290.0 L1174.3,280.8 L1174.9,271.6 L1175.5,262.4 L1176.0,253.2 L1176.5,249.7 L1176.9,248.6 L1177.3,244.2 L1177.8,242.4 L1178.2,248.5 L1178.7,251.2 L1179.1,258.5 L1179.6,262.2 L1180.1,258.5 L1180.7,259.3 L1181.2,254.2 L1181.8,254.9 L1182.3,251.4 L1182.8,247.5 L1183.4,250.6 L1183.9,244.7 L1184.5,247.1 L1185.0,244.2 L1185.5,243.8 L1186.0,248.2 L1186.5,244.2 L1187.1,247.9 L1187.6,245.3 L1188.1,248.2 L1188.6,247.8 L1189.1,244.6 L1189.7,246.7 L1190.2,241.1 L1190.8,242.7 L1191.3,238.8 L1191.8,232.7 L1192.2,229.9 L1192.6,222.8 L1193.1,218.9 L1193.5,221.2 L1194.0,219.3 L1194.5,224.1 L1194.9,222.5 L1195.4,215.9 L1195.8,212.7 L1196.3,205.1 L1196.8,200.8 L1197.4,198.2 L1197.9,192.5 L1198.5,190.4 L1199.0,193.2 L1199.4,190.8 L1199.8,195.5 L1200.3,194.0 L1200.8,190.7 L1201.4,191.7 L1201.9,186.1 L1202.5,189.2 L1203.0,185.0 L1203.5,180.6 L1204.0,178.9 L1204.5,174.2 L1205.0,173.4 L1205.6,179.1 L1206.2,176.9 L1206.7,179.6 L1207.2,177.7 L1207.6,172.9 L1208.0,172.6 L1208.5,168.8 L1209.0,168.4 L1209.4,174.5 L1209.9,174.2 L1210.3,183.2 L1210.8,192.3 L1211.2,201.3 L1211.7,201.6 L1212.1,207.5 L1212.5,206.6 L1213.0,210.3 L1213.5,215.2 L1213.9,217.1 L1214.4,224.3 L1214.8,231.6 L1215.2,238.8 L1215.7,246.0 L1216.2,237.4 L1216.8,232.7 L1217.3,223.5 L1217.9,218.0 L1218.4,209.9 L1218.9,209.9 L1219.3,215.5 L1219.8,213.7 L1220.2,217.5 L1220.7,217.0 L1221.3,211.3 L1221.8,212.2 L1222.4,206.2 L1222.9,206.3 L1223.3,208.9 L1223.8,206.7 L1224.2,204.6 L1224.7,212.5 L1225.1,210.0 L1225.6,213.9 L1226.0,209.8 L1226.5,202.1 L1227.0,199.7 L1227.4,192.2 L1227.9,188.8 L1228.3,190.0 L1228.8,185.3 L1229.2,185.0 L1229.6,177.5 L1230.1,169.9 L1230.5,162.4 L1231.0,167.4 L1231.4,166.5 L1231.9,170.6 L1232.4,174.9 L1232.8,176.1 L1233.2,181.3 L1233.7,183.2 L1234.2,179.0 L1234.6,178.0 L1235.0,173.0 L1235.5,170.6 L1236.0,172.7 L1236.4,170.2 L1236.9,173.7 L1237.4,170.4 L1237.8,172.8 L1238.3,172.4 L1238.8,168.8 L1239.2,168.4 L1239.6,162.9 L1240.1,161.5 L1240.5,162.0 L1241.0,156.4 L1241.5,159.5 L1241.9,156.1 L1242.5,152.3 L1243.1,152.5 L1243.6,158.0 L1244.1,159.6 L1244.6,165.1 L1245.0,170.5 L1245.5,172.9 L1246.0,179.5 L1246.4,183.2 L1246.9,184.9 L1247.3,190.8 L1247.8,191.3 L1248.2,195.8 L1248.7,196.2 L1249.1,190.9 L1249.5,193.4 L1250.0,190.4 L1250.4,195.3 L1250.9,203.3 L1251.3,208.5 L1251.8,198.3 L1252.2,188.0 L1252.7,177.8 L1253.2,178.4 L1253.8,185.9 L1254.3,184.9 L1254.9,190.9 L1255.4,192.2 L1255.9,184.4 L1256.3,180.8 L1256.8,171.9 L1257.2,166.9 L1257.7,168.6 L1258.3,164.7 L1258.8,167.2 L1259.4,163.2 L1259.9,165.1 L1260.4,165.7 L1261.0,160.0 L1261.5,164.3 L1262.1,156.2 L1262.6,157.9 L1263.1,154.7 L1263.7,148.3 L1264.2,146.0 L1264.8,140.8 L1265.3,144.5 L1265.7,152.0 L1266.2,156.1 L1266.7,152.3 L1267.1,153.4 L1267.5,147.1 L1268.0,147.1 L1268.5,150.7 L1268.9,146.7 L1269.4,153.2 L1269.9,151.4 L1270.3,156.5 L1270.8,156.1 L1271.3,151.6 L1271.9,153.7 L1272.4,147.7 L1273.0,148.9 L1273.5,145.3 L1274.0,141.1 L1274.5,141.1 L1275.1,134.7 L1275.6,134.4 L1276.2,148.9 L1276.7,163.3 L1277.2,166.9 L1277.6,164.4 L1278.0,169.4 L1278.5,168.8 L1278.9,240.0 L1278.9,270.7 L1279.4,266.4 L1279.8,265.8 L1280.2,259.9 L1280.7,258.0 L1281.2,267.1 L1281.6,276.1 L1282.0,281.5 L1282.5,277.3 L1283.0,283.7 L1283.4,283.4 L1283.9,287.2 L1284.3,294.3 L1284.8,297.8 L1285.2,291.9 L1285.7,289.7 L1286.1,283.4 L1286.6,329.4" fill="none" stroke="#3aacda" stroke-width="2.4" stroke-linejoin="round" stroke-linecap="round"/>
<text x="214" y="86.4" class="wmt" textLength="193.5" lengthAdjust="spacingAndGlyphs">MacroMicro</text>
<path d="M601 530.2 H621" stroke="#3aacda" stroke-width="2.5"/>
<text x="628" y="536.2" class="lg" textLength="76.8" lengthAdjust="spacingAndGlyphs">美元/台幣</text>
</svg>
</body></html>
